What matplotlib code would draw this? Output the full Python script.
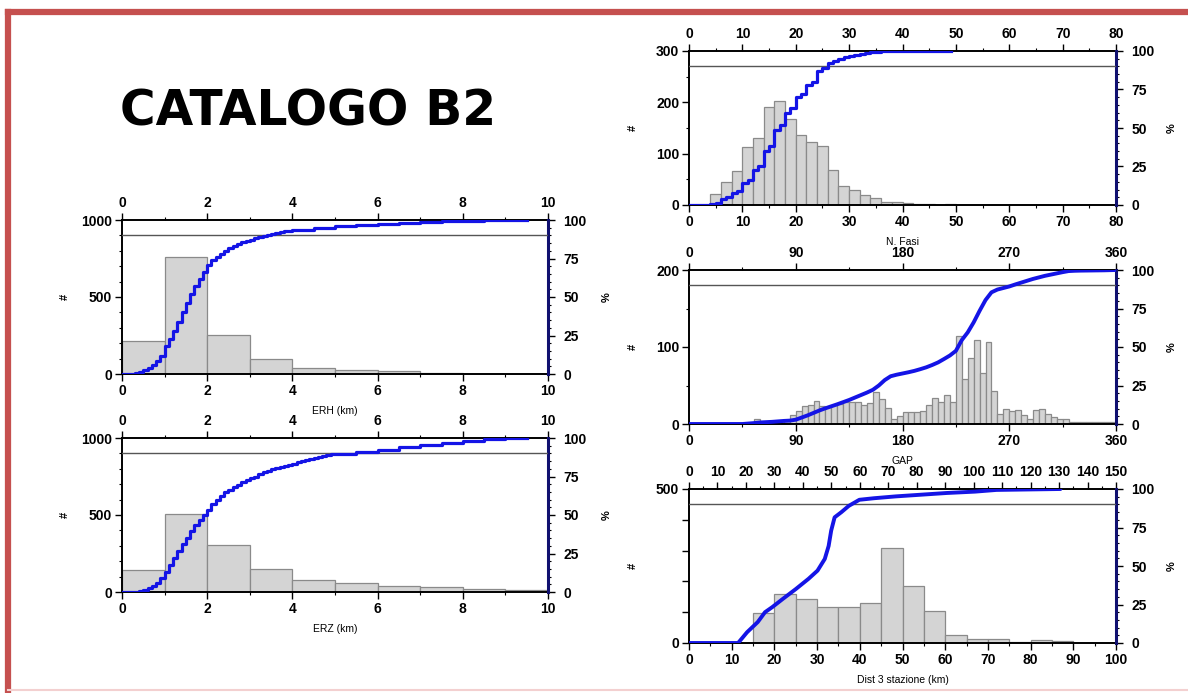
import matplotlib
matplotlib.use("Agg")
import matplotlib.pyplot as plt
from matplotlib.ticker import MultipleLocator, FixedLocator, FuncFormatter
from matplotlib.lines import Line2D
import numpy as np

plt.rcParams["font.family"] = ["Liberation Sans", "DejaVu Sans"]

# ---------------------------------------------------------------------------
# data
# ---------------------------------------------------------------------------

# ERH (km), 1 km bins
erh_edges = [0, 1, 2, 3, 4, 5, 6, 7, 8, 9, 10]
erh_counts = [215, 760, 255, 95, 42, 25, 20, 5, 3, 2]
erh_cum_x = [0.0, 0.1, 0.2, 0.3, 0.4, 0.5, 0.6, 0.7, 0.8, 0.9,
             1.0, 1.1, 1.2, 1.3, 1.4, 1.5, 1.6, 1.7, 1.8, 1.9,
             2.0, 2.1, 2.2, 2.3, 2.4, 2.5, 2.6, 2.7, 2.8, 2.9,
             3.0, 3.1, 3.2, 3.3, 3.4, 3.5, 3.6, 3.7, 3.8, 3.9,
             4.0, 4.5, 5.0, 5.5, 6.0, 6.5, 7.0, 7.5, 8.0, 8.5, 9.0, 9.5]
erh_cum_pct = [0, 0, 0.3, 0.8, 1.5, 2.5, 4, 6, 8.5, 12,
               18, 23, 28, 34, 40, 46, 52, 57, 62, 66.5,
               71, 74, 76, 78, 80, 81.5, 83, 84.3, 85.5, 86.5,
               87.3, 88.2, 89, 89.7, 90.4, 91, 91.6, 92.1, 92.6, 93,
               93.5, 94.8, 95.8, 96.6, 97.3, 98, 98.6, 99.1, 99.5, 99.7, 99.8, 100]

# ERZ (km), 1 km bins
erz_edges = [0, 1, 2, 3, 4, 5, 6, 7, 8, 9, 10]
erz_counts = [145, 507, 305, 150, 80, 57, 38, 33, 22, 13]
erz_cum_x = [0.0, 0.1, 0.2, 0.3, 0.4, 0.5, 0.6, 0.7, 0.8, 0.9,
             1.0, 1.1, 1.2, 1.3, 1.4, 1.5, 1.6, 1.7, 1.8, 1.9,
             2.0, 2.1, 2.2, 2.3, 2.4, 2.5, 2.6, 2.7, 2.8, 2.9,
             3.0, 3.1, 3.2, 3.3, 3.4, 3.5, 3.6, 3.7, 3.8, 3.9,
             4.0, 4.1, 4.2, 4.3, 4.4, 4.5, 4.6, 4.7, 4.8, 4.9,
             5.0, 5.5, 6.0, 6.5, 7.0, 7.5, 8.0, 8.5, 9.0, 9.5]
erz_cum_pct = [0, 0, 0, 0.3, 0.8, 1.5, 2.5, 4, 6, 9,
               13, 17.5, 22, 26.5, 31, 35, 39.5, 43.5, 47, 50,
               53, 57, 60, 62.5, 64.8, 66.5, 68.2, 69.8, 71.2, 72.6,
               73.8, 75, 76.3, 77.6, 78.6, 79.6, 80.5, 81.3, 82, 82.6,
               83.2, 84.2, 85.2, 86, 86.6, 87.3, 87.9, 88.4, 88.9, 89.3,
               89.7, 90.6, 92.5, 94.3, 95.7, 97, 98.2, 99.2, 99.7, 100]

# N. Fasi, 2-phase bins
fasi_edges = [4, 6, 8, 10, 12, 14, 16, 18, 20, 22, 24, 26, 28, 30,
              32, 34, 36, 38, 40, 42, 44, 46, 48, 50]
fasi_counts = [21, 45, 66, 113, 130, 190, 203, 167, 136, 123, 114, 69,
               37, 29, 19, 13, 6, 6, 3, 2, 1, 0, 2]
fasi_cum_x = [0, 4, 5, 6, 7, 8, 9, 10, 11, 12, 13, 14, 15, 16, 17, 18,
              19, 20, 21, 22, 23, 24, 25, 26, 27, 28, 29, 30, 31, 32,
              33, 34, 35, 36, 38, 40, 49]
fasi_cum_pct = [0, 0.5, 1, 4, 5, 8, 9, 14, 16, 23, 25, 35, 38, 49, 52, 60,
                63, 70, 72, 78, 80, 87, 89, 92, 93.5, 95, 96, 96.8, 97.5, 98,
                98.7, 99.2, 99.5, 99.7, 99.8, 99.9, 100]

# GAP (deg), 5 deg bins from 55
gap_edges = [55, 60, 65, 70, 75, 80, 85, 90, 95, 100, 105, 110, 115, 120,
             125, 130, 135, 140, 145, 150, 155, 160, 165, 170, 175, 180,
             185, 190, 195, 200, 205, 210, 215, 220, 225, 230, 235, 240,
             245, 250, 255, 260, 265, 270, 275, 280, 285, 290, 295, 300,
             305, 310, 315, 320, 325, 330, 335, 340, 345, 350, 355, 360]
gap_counts = [6.5, 1, 2, 4, 4, 4, 12, 17, 24, 25, 30, 24, 22, 25, 26, 29,
              29, 28, 25, 27, 41, 33, 21, 6, 11, 15, 15, 15, 17, 25, 34,
              29, 38, 29, 114, 58, 86, 109, 66, 106, 43, 13, 19, 17, 18,
              12, 6.5, 18, 20, 13, 9, 6.5, 6.5, 3, 3, 2, 2, 2, 2, 2, 3]
gap_cum_x = [0, 45, 50, 55, 60, 65, 70, 75, 80, 85, 90, 95, 100, 105, 110,
             115, 120, 125, 130, 135, 140, 145, 150, 155, 160, 165, 170,
             175, 180, 185, 190, 195, 200, 205, 210, 215, 220, 225, 230,
             235, 240, 245, 250, 255, 260, 265, 270, 275, 280, 285, 290,
             295, 300, 305, 310, 315, 320, 325, 330, 340, 350, 360]
gap_cum_pct = [0, 0, 0.3, 0.6, 1.0, 1.2, 1.4, 1.7, 2.0, 2.2, 2.8, 4.2, 5.6,
               7.2, 8.8, 10.2, 11.5, 12.8, 14.2, 15.6, 17.2, 18.8, 20.4,
               22.2, 25, 28.5, 31, 32, 32.8, 33.6, 34.5, 35.6, 36.8, 38.3,
               40, 42.2, 44.5, 47.5, 54.5, 59.5, 66, 73.5, 80.5, 85.5, 87.3,
               88.3, 89.3, 90.6, 91.8, 93, 94.2, 95.2, 96.2, 97, 97.8, 98.6,
               99.3, 99.5, 99.6, 99.7, 99.8, 100]

# Dist 3 stazione (km), 5 km bins from 15
dist_edges = [15, 20, 25, 30, 35, 40, 45, 50, 55, 60, 65, 70, 75, 80, 85, 90, 95]
dist_counts = [98, 160, 144, 118, 118, 130, 308, 186, 105, 27, 14, 13, 3,
               11, 8, 1]
dist_cum_x = [0, 11.5, 13.6, 16.1, 17.8, 19.5, 22, 25, 28, 30.1, 31.8,
              32.7, 33.3, 34.1, 35.7, 37.4, 39.9, 43.3, 48.4, 60.3, 67,
              72, 87]
dist_cum_pct = [0, 0, 7, 13.6, 20, 23.3, 28.7, 35, 41.7, 47, 54.6, 63, 73,
                81.6, 85, 89, 93, 94, 95.2, 97.4, 98.3, 99.4, 100]

# ---------------------------------------------------------------------------
# figure
# ---------------------------------------------------------------------------

W, H = 1188, 693
fig = plt.figure(figsize=(W / 100, H / 100), dpi=100)
fig.patch.set_facecolor("white")

BLUE = "#1414e6"
NAVY = "#101070"
BAR_FACE = "#d4d4d4"
BAR_EDGE = "#8a8a8a"
TICK_FS = 10


def panel(rect, edges, counts, cum_x, cum_pct, xmax, ymax, xlabel,
          x_major, x_minor, y_major, y_minor, steps=True,
          top_range=None, top_major=None, top_minor=None, y_labels=None,
          hash_x=-0.135, pct_x=1.13):
    ax = fig.add_axes(rect)
    widths = np.diff(edges)
    ax.bar(edges[:-1], counts, width=widths, align="edge",
           color=BAR_FACE, edgecolor=BAR_EDGE, linewidth=0.9, zorder=2)
    ax.set_xlim(0, xmax)
    ax.set_ylim(0, ymax)

    ax.xaxis.set_major_locator(MultipleLocator(x_major))
    ax.xaxis.set_minor_locator(MultipleLocator(x_minor))
    ax.yaxis.set_major_locator(MultipleLocator(y_major))
    ax.yaxis.set_minor_locator(MultipleLocator(y_minor))
    if y_labels is not None:
        ax.yaxis.set_major_formatter(
            FuncFormatter(lambda v, p: f"{v:.0f}" if v in y_labels else ""))
    ax.tick_params(which="major", direction="out", length=5, width=1,
                   labelsize=TICK_FS, pad=2)
    ax.tick_params(which="minor", direction="out", length=2.5, width=0.8)
    for lab in ax.get_xticklabels() + ax.get_yticklabels():
        lab.set_fontweight("bold")

    if top_range is None:
        ax.tick_params(axis="x", which="both", top=True, labeltop=True)
        for lab in ax.get_xticklabels():
            lab.set_fontweight("bold")
    else:
        axt = ax.twiny()
        axt.set_xlim(0, top_range)
        axt.xaxis.set_major_locator(MultipleLocator(top_major))
        axt.xaxis.set_minor_locator(MultipleLocator(top_minor))
        axt.tick_params(which="major", direction="out", length=5, width=1,
                        labelsize=TICK_FS, pad=2)
        axt.tick_params(which="minor", direction="out", length=2.5, width=0.8)
        for lab in axt.get_xticklabels():
            lab.set_fontweight("bold")
        for s in axt.spines.values():
            s.set_visible(False)

    ax.set_xlabel(xlabel, fontsize=7.5, labelpad=6)
    ax.set_ylabel("#", fontsize=8, fontweight="bold")
    ax.yaxis.set_label_coords(hash_x, 0.5)

    for name in ("left", "bottom", "top"):
        ax.spines[name].set_linewidth(1.4)
    ax.spines["right"].set_visible(False)

    ax2 = ax.twinx()
    ax2.set_ylim(0, 100)
    ax2.axhline(90, color="#555555", linewidth=1.0, zorder=3)
    if steps:
        ax2.step(cum_x, cum_pct, where="post", color=BLUE, linewidth=2.3,
                 zorder=4)
    else:
        ax2.plot(cum_x, cum_pct, color=BLUE, linewidth=2.8, zorder=4,
                 solid_capstyle="round")
    ax2.set_xlim(0, xmax)
    ax2.yaxis.set_major_locator(FixedLocator([0, 25, 50, 75, 100]))
    ax2.yaxis.set_minor_locator(MultipleLocator(5))
    ax2.tick_params(which="major", direction="out", length=5, width=1,
                    labelsize=TICK_FS, pad=6)
    ax2.tick_params(which="minor", direction="out", length=2.5, width=0.8)
    for lab in ax2.get_yticklabels():
        lab.set_fontweight("bold")
    ax2.set_ylabel("%", fontsize=8, fontweight="bold", rotation=90)
    ax2.yaxis.set_label_coords(pct_x, 0.5)
    ax2.spines["right"].set_color(NAVY)
    ax2.spines["right"].set_linewidth(2.2)
    for name in ("left", "bottom", "top"):
        ax2.spines[name].set_visible(False)
    return ax, ax2


def frac(x0, y0, x1, y1):
    return [x0 / W, 1 - y1 / H, (x1 - x0) / W, (y1 - y0) / H]


panel(frac(122, 220, 548, 374), erh_edges, erh_counts, erh_cum_x,
      erh_cum_pct, 10, 1000, "ERH (km)", 2, 1, 500, 100,
      hash_x=-0.122, pct_x=1.125)
panel(frac(122, 438, 548, 592), erz_edges, erz_counts, erz_cum_x,
      erz_cum_pct, 10, 1000, "ERZ (km)", 2, 1, 500, 100,
      hash_x=-0.122, pct_x=1.125)
panel(frac(689, 51, 1116, 205), fasi_edges, fasi_counts, fasi_cum_x,
      fasi_cum_pct, 80, 300, "N. Fasi", 10, 5, 100, 50,
      hash_x=-0.119, pct_x=1.119)
panel(frac(689, 270, 1116, 424), gap_edges, gap_counts, gap_cum_x,
      gap_cum_pct, 360, 200, "GAP", 90, 45, 100, 50, steps=False,
      hash_x=-0.119, pct_x=1.119)
panel(frac(689, 489, 1116, 643), dist_edges, dist_counts, dist_cum_x,
      dist_cum_pct, 100, 500, "Dist 3 stazione (km)", 10, 5, 100, 100,
      steps=False, top_range=150, top_major=10, top_minor=5,
      y_labels=(0, 500), hash_x=-0.119, pct_x=1.119)

# title
fig.text(308 / W, 1 - 112 / H, "CATALOGO B2", fontsize=35,
         fontweight="bold", family=["DejaVu Sans"], ha="center", va="center")

# red slide frame (top and left edges)
RED = "#c5504f"
fig.add_artist(Line2D([8 / W, 1.0], [1 - 12 / H, 1 - 12 / H],
                      transform=fig.transFigure, color=RED, linewidth=4.5))
fig.add_artist(Line2D([8 / W, 8 / W], [0.0, 1 - 12 / H],
                      transform=fig.transFigure, color=RED, linewidth=4.5))
fig.add_artist(Line2D([8 / W, 1.0], [1 - 690 / H, 1 - 690 / H],
                      transform=fig.transFigure, color="#f3d0d0",
                      linewidth=1.5))

fig.savefig("out.png", dpi=100)
